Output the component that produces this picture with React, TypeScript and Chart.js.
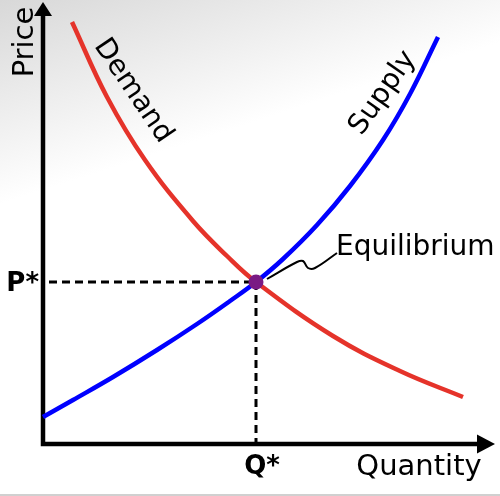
import React, { useEffect, useRef } from "react";
import { Chart, registerables } from "chart.js";

Chart.register(...registerables);

// Demand and supply curves (quantity, price)
const demandQ = [29, 64, 102, 150, 184, 213, 290, 357, 420];
const demandP = [422, 347, 284, 223, 188, 162, 108, 73, 47];
const supplyQ = [0, 30, 70, 114, 154, 187, 213, 240, 274, 307, 340, 367, 395];
const supplyP = [27, 44, 67, 94, 120, 143, 162, 185, 219, 258, 304, 350, 407];
// Equilibrium
const eqQ = 213;
const eqP = 162;
// Callout leader line from the equilibrium point to its label
const calloutQ = [224, 254, 260, 265, 272, 294];
const calloutP = [165, 182, 183, 176, 176, 191];
// Axis ends (quantity, price)
const axisEnds = [452, 442];
// Texts
const axisTitles = ["Quantity", "Price"];
const tickLabels = ["Q*", "P*"];
const curveLabels = ["Demand", "Supply", "Equilibrium"];

const FONT = '"DejaVu Sans", Verdana, sans-serif';

export default function App() {
  const ref = useRef<HTMLCanvasElement>(null);

  useEffect(() => {
    if (!ref.current) return;
    const xy = (xs: number[], ys: number[]) => xs.map((x, i) => ({ x, y: ys[i] }));

    const bgPlugin = {
      id: "bg",
      beforeDraw(chart: any) {
        const { ctx, width, height } = chart;
        ctx.save();
        ctx.fillStyle = "#ffffff";
        ctx.fillRect(0, 0, width, height);
        const g = ctx.createLinearGradient(0, 0, 60, 185);
        g.addColorStop(0, "#d8d8d8");
        g.addColorStop(1, "#ffffff");
        ctx.fillStyle = g;
        ctx.fillRect(0, 0, width, height);
        ctx.fillStyle = "#d0d0d0";
        ctx.fillRect(0, height - 2, width, 2);
        ctx.restore();
      },
    };

    const axesPlugin = {
      id: "axes",
      beforeDatasetsDraw(chart: any) {
        const { ctx } = chart;
        const xs = chart.scales.x;
        const ys = chart.scales.y;
        const x0 = xs.getPixelForValue(0);
        const y0 = ys.getPixelForValue(0);
        const xTip = xs.getPixelForValue(axisEnds[0]);
        const yTip = ys.getPixelForValue(axisEnds[1]);
        ctx.save();
        ctx.strokeStyle = "#000";
        ctx.fillStyle = "#000";
        ctx.lineWidth = 4.5;
        ctx.beginPath();
        ctx.moveTo(x0, y0 + 2.2);
        ctx.lineTo(x0, yTip + 10);
        ctx.moveTo(x0 - 2.2, y0);
        ctx.lineTo(xTip - 14, y0);
        ctx.stroke();
        // arrow heads
        ctx.beginPath();
        ctx.moveTo(x0, yTip);
        ctx.lineTo(x0 + 9, yTip + 14);
        ctx.lineTo(x0 - 9, yTip + 14);
        ctx.closePath();
        ctx.fill();
        ctx.beginPath();
        ctx.moveTo(xTip, y0);
        ctx.lineTo(xTip - 18, y0 - 9.5);
        ctx.lineTo(xTip - 18, y0 + 9.5);
        ctx.closePath();
        ctx.fill();
        ctx.restore();
      },
    };

    const textPlugin = {
      id: "texts",
      afterDraw(chart: any) {
        const { ctx } = chart;
        const xs = chart.scales.x;
        const ys = chart.scales.y;
        const px = (v: number) => xs.getPixelForValue(v);
        const py = (v: number) => ys.getPixelForValue(v);
        const x0 = px(0);
        const y0 = py(0);
        ctx.save();
        ctx.fillStyle = "#000";
        // Quantity
        ctx.font = `29px ${FONT}`;
        ctx.textAlign = "center";
        ctx.textBaseline = "alphabetic";
        ctx.fillText(axisTitles[0], px(376), y0 + 31);
        // Price (rotated)
        ctx.save();
        ctx.translate(x0 - 10, py(402));
        ctx.rotate(-Math.PI / 2);
        ctx.fillText(axisTitles[1], 0, 0);
        ctx.restore();
        // Q* and P*
        ctx.font = `bold 26px ${FONT}`;
        ctx.textAlign = "center";
        ctx.fillText(tickLabels[0], px(eqQ) + 6, y0 + 30);
        ctx.textAlign = "right";
        ctx.fillText(tickLabels[1], x0 - 4, py(eqP) + 9);
        // Curve labels
        ctx.font = `28px ${FONT}`;
        ctx.textAlign = "center";
        ctx.textBaseline = "middle";
        ctx.save();
        ctx.translate(px(90), py(353));
        ctx.rotate((56 * Math.PI) / 180);
        ctx.fillText(curveLabels[0], 0, 0);
        ctx.restore();
        ctx.save();
        ctx.translate(px(340), py(351));
        ctx.rotate((-55 * Math.PI) / 180);
        ctx.fillText(curveLabels[1], 0, 0);
        ctx.restore();
        ctx.textAlign = "left";
        ctx.textBaseline = "alphabetic";
        ctx.fillText(curveLabels[2], px(293), py(189));
        ctx.restore();
      },
    };

    const chart = new Chart(ref.current, {
      type: "line",
      data: {
        datasets: [
          {
            label: "Equilibrium",
            data: [{ x: eqQ, y: eqP }],
            showLine: false,
            pointRadius: 7.5,
            pointBackgroundColor: "#7a1a84",
            pointBorderColor: "#7a1a84",
            pointBorderWidth: 0,
          },
          {
            label: "callout",
            data: xy(calloutQ, calloutP),
            borderColor: "#000",
            borderWidth: 2,
            tension: 0.4,
            pointRadius: 0,
            fill: false,
          },
          {
            label: "Supply",
            data: xy(supplyQ, supplyP),
            borderColor: "#0000ff",
            borderWidth: 4.5,
            tension: 0.4,
            pointRadius: 0,
            fill: false,
          },
          {
            label: "Demand",
            data: xy(demandQ, demandP),
            borderColor: "#e5332a",
            borderWidth: 4.5,
            tension: 0.4,
            pointRadius: 0,
            fill: false,
          },
          {
            label: "P* guide",
            data: [
              { x: 6, y: eqP },
              { x: eqQ, y: eqP },
            ],
            borderColor: "#000",
            borderWidth: 3,
            borderDash: [8, 5],
            pointRadius: 0,
            fill: false,
          },
          {
            label: "Q* guide",
            data: [
              { x: eqQ, y: eqP },
              { x: eqQ, y: 0 },
            ],
            borderColor: "#000",
            borderWidth: 3,
            borderDash: [8, 5],
            pointRadius: 0,
            fill: false,
          },
        ],
      },
      options: {
        animation: false,
        responsive: false,
        events: [],
        layout: { padding: 0, autoPadding: false },
        plugins: {
          legend: { display: false },
          tooltip: { enabled: false },
        },
        scales: {
          x: { type: "linear", display: false, min: -43, max: 457 },
          y: { type: "linear", display: false, min: -52, max: 444 },
        },
      },
      plugins: [bgPlugin, axesPlugin, textPlugin],
    });
    return () => chart.destroy();
  }, []);

  return (
    <div style={{ position: "absolute", left: 0, top: 0, width: 500, height: 496 }}>
      <canvas ref={ref} width={500} height={496} style={{ display: "block" }} />
    </div>
  );
}
